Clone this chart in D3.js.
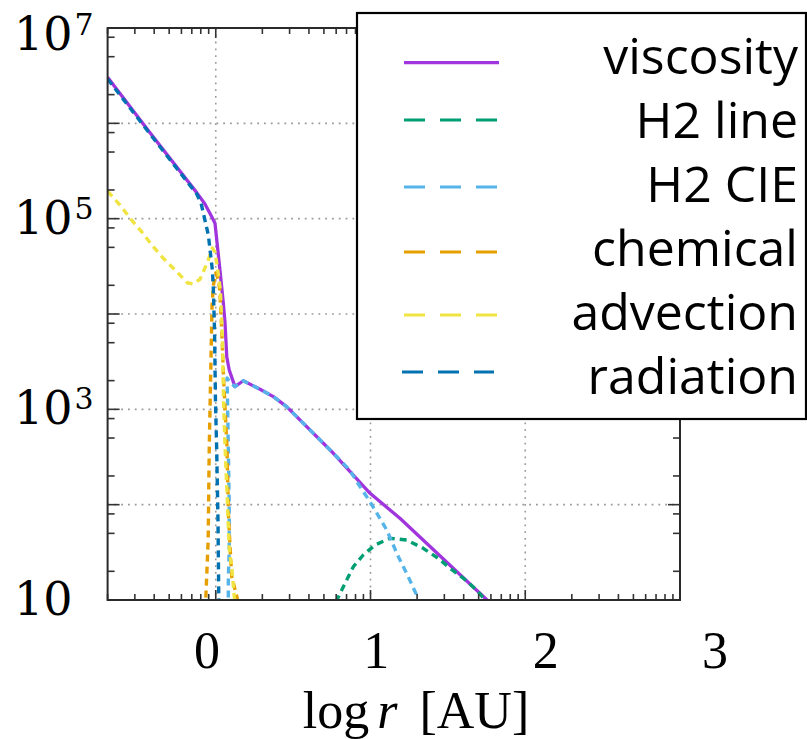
<!DOCTYPE html>
<html><head><meta charset="utf-8">
<script src="https://cdn.jsdelivr.net/npm/d3@7"></script>
<style>body{margin:0;background:#fff;overflow:hidden}</style>
</head><body>
<svg id="c" width="807" height="739"></svg>
<script>
// ---- data (log10 r [AU], log10 rate) ----
const seriesNames  = ["viscosity","H2 line","H2 CIE","chemical","advection","radiation"];
const seriesColors = ["#a035de","#009E73","#56B4E9","#E69F00","#F0E442","#0072B2"];

const viscosityLogR = [-0.699,-0.425,-0.123,-0.070,-0.026,-0.005,0.027,0.049,0.060,0.071,0.087,0.124,0.178,0.286,0.372,0.458,0.760,0.997,1.190,1.753,1.772];
const viscosityLogQ = [6.483,5.900,5.273,5.154,5.021,4.952,4.462,4.112,3.903,3.552,3.413,3.238,3.300,3.210,3.133,3.028,2.539,2.119,1.857,1.000,0.958];

const h2lineLogR = [0.777,0.835,0.889,0.953,1.029,1.126,1.234,1.341,1.438,1.514,1.600,1.686,1.740,1.760];
const h2lineLogQ = [0.982,1.175,1.349,1.472,1.577,1.647,1.629,1.542,1.437,1.333,1.228,1.105,1.000,0.960];

const h2cieLogR = [0.081,0.081,0.087,0.087,0.081,0.076,0.073,0.098,0.124,0.178,0.286,0.372,0.458,0.760,0.867,0.932,0.997,1.105,1.180,1.244,1.298,1.313];
const h2cieLogQ = [0.900,1.210,1.524,1.976,2.605,3.098,3.329,3.276,3.238,3.300,3.210,3.133,3.028,2.539,2.360,2.189,2.031,1.734,1.454,1.244,1.052,0.895];

const chemicalLogR = [-0.068,-0.063,-0.049,-0.042,-0.031,-0.024,-0.015,0.000,0.016,0.026,0.0385,0.051,0.0725,0.0817,0.0923,0.1033,0.1356,0.150];
const chemicalLogQ = [0.900,1.073,1.629,2.605,3.518,4.094,4.304,4.430,4.367,4.252,3.832,3.308,2.605,1.909,1.559,1.244,1.042,0.900];

const advectionLogR = [-0.699,-0.619,-0.548,-0.479,-0.408,-0.339,-0.263,-0.184,-0.147,-0.102,-0.055,-0.021,-0.005,0.011,0.030,0.0435,0.050,0.060,0.0745,0.0874,0.103,0.120,0.130];
const advectionLogQ = [5.290,5.143,4.994,4.863,4.713,4.584,4.462,4.328,4.315,4.364,4.538,4.692,4.650,4.483,4.252,3.727,3.098,2.605,2.049,1.524,1.346,1.031,0.900];

const radiationLogR = [-0.699,-0.425,-0.123,-0.095,-0.070,-0.048,-0.022,-0.016,-0.008,-0.002,0.006,0.0144,0.0196,0.022];
const radiationLogQ = [6.465,5.888,5.259,5.164,4.984,4.829,4.462,4.283,3.832,3.098,2.573,1.839,1.000,0.580];

const xTickLabels = ["0","1","2","3"];
const yTickExponents = [7,5,3,1];

const seriesR = [viscosityLogR,h2lineLogR,h2cieLogR,chemicalLogR,advectionLogR,radiationLogR];
const seriesQ = [viscosityLogQ,h2lineLogQ,h2cieLogQ,chemicalLogQ,advectionLogQ,radiationLogQ];

// ---- layout ----
const L = 107.6, R = 680, T = 28, B = 600;
const svg = d3.select("#c");
const x = d3.scaleLog().domain([0.2, 1000]).range([L, R]);
const y = d3.scaleLog().domain([10, 1e7]).range([B, T]);

// grid
const gx = [1, 10, 100], gy = [1e2, 1e3, 1e4, 1e5, 1e6];
const grid = svg.append("g").attr("stroke", "#9a9a9a").attr("stroke-width", 1.6).attr("stroke-dasharray", "1.8,5");
grid.selectAll("line.gx").data(gx).join("line").attr("x1", d => x(d)).attr("x2", d => x(d)).attr("y1", T).attr("y2", B);
grid.selectAll("line.gy").data(gy).join("line").attr("x1", L).attr("x2", R).attr("y1", d => y(d)).attr("y2", d => y(d));

// curves
svg.append("clipPath").attr("id", "clip").append("rect").attr("x", L).attr("y", T).attr("width", R - L).attr("height", B - T);
const line = d3.line().x(d => x(d[0])).y(d => y(d[1]));
const curves = svg.append("g").attr("clip-path", "url(#clip)");
seriesNames.forEach((name, i) => {
  const pts = seriesR[i].map((lr, j) => [Math.pow(10, lr), Math.pow(10, seriesQ[i][j])]);
  curves.append("path").datum(pts).attr("d", line)
    .attr("fill", "none").attr("stroke", seriesColors[i])
    .attr("stroke-width", i === 0 ? 3.3 : 3.4)
    .attr("stroke-linejoin", "round")
    .attr("stroke-dasharray", i === 0 ? null : "7,5");
});

// ticks (inward, all four sides)
const tk = svg.append("g").attr("stroke", "#333").attr("stroke-width", 1.6);
const xt = [];
for (let d = -1; d <= 3; d++) for (let k = 1; k <= 9; k++) {
  const v = k * Math.pow(10, d);
  if (v >= 0.2 - 1e-9 && v <= 1000 + 1e-9) xt.push({v, major: k === 1});
}
const yt = [];
for (let d = 1; d <= 7; d++) for (const k of [1, 2, 5, 8]) {
  const v = k * Math.pow(10, d);
  if (v <= 1e7 + 1) yt.push({v, major: k === 1});
}
xt.forEach(t => {
  const len = t.major ? 10 : 6;
  tk.append("line").attr("x1", x(t.v)).attr("x2", x(t.v)).attr("y1", B).attr("y2", B - len);
  tk.append("line").attr("x1", x(t.v)).attr("x2", x(t.v)).attr("y1", T).attr("y2", T + len);
});
yt.forEach(t => {
  const len = t.major ? 12 : 7;
  tk.append("line").attr("y1", y(t.v)).attr("y2", y(t.v)).attr("x1", L).attr("x2", L + len);
  tk.append("line").attr("y1", y(t.v)).attr("y2", y(t.v)).attr("x1", R).attr("x2", R - len);
});
svg.append("rect").attr("x", L).attr("y", T).attr("width", R - L).attr("height", B - T)
  .attr("fill", "none").attr("stroke", "#2a2a2a").attr("stroke-width", 2);

// y labels
const ylab = svg.append("g").attr("font-family", "DejaVu Serif").attr("fill", "#000");
yTickExponents.forEach(e => {
  const off = e === 7 ? 22 : 15;
  const t = ylab.append("text").attr("x", 14).attr("y", y(Math.pow(10, e)) + off).attr("font-size", 46);
  t.append("tspan").text("10");
  if (e !== 1) t.append("tspan").attr("dy", -15).attr("dx", 2).attr("font-size", 30).text(String(e));
});

// x labels (placed on their own label scale)
const xl = d3.scaleLinear().domain([0, 3]).range([207, 715]);
svg.append("g").selectAll("text").data(xTickLabels).join("text")
  .attr("x", (d, i) => xl(i)).attr("y", 668).attr("text-anchor", "middle")
  .attr("font-family", "Liberation Serif").attr("font-size", 52).text(d => d);

// x title
const xt2 = svg.append("text").attr("x", 416).attr("y", 728).attr("text-anchor", "middle")
  .attr("font-family", "Liberation Serif").attr("font-size", 52);
xt2.append("tspan").text("log");
xt2.append("tspan").attr("dx", 8).attr("font-style", "italic").text("r");
xt2.append("tspan").attr("dx", 22).text("[AU]");

// legend
const lg = svg.append("g");
lg.append("rect").attr("x", 357).attr("y", 13).attr("width", 449).attr("height", 406)
  .attr("fill", "#fff").attr("stroke", "#000").attr("stroke-width", 2.2);
const legendLineY = [62.7, 120, 187, 252, 315, 372];
seriesNames.forEach((name, i) => {
  lg.append("line").attr("x1", i === 5 ? 402 : 404).attr("x2", i === 5 ? 494 : 499)
    .attr("y1", legendLineY[i]).attr("y2", legendLineY[i])
    .attr("stroke", seriesColors[i]).attr("stroke-width", 3.2)
    .attr("stroke-dasharray", i === 0 ? null : "21,15");
  lg.append("text").attr("x", 798).attr("y", 74 + i * 63.9).attr("text-anchor", "end")
    .attr("font-family", "Open Sans").attr("font-size", 50).attr("fill", "#000").text(name);
});
</script>
</body></html>
